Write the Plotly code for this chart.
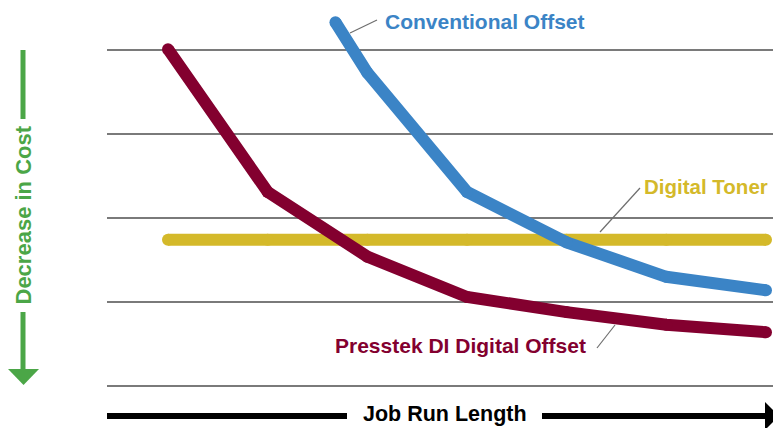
import plotly.graph_objects as go

# ---- data ----
run_length = [1, 2, 3, 4, 5, 6, 7]
presstek_di = [4.01, 2.31, 1.54, 1.06, 0.88, 0.73, 0.64]
conv_x = [2.68, 3, 4, 5, 6, 7]
conventional = [4.33, 3.73, 2.31, 1.71, 1.30, 1.14]
digital_toner = [1.74, 1.74, 1.74, 1.74, 1.74, 1.74, 1.74]
grid_levels = [0, 1, 2, 3, 4]

BLUE = "#3b84c6"
RED = "#83002f"
GOLD = "#d4b92a"
GREEN = "#4ba647"
GRAY = "#6e6e6e"
FONT = "Liberation Sans, Arial, sans-serif"

W, H = 773, 428
L = 107  # left margin (px)
PW = W - L

def pxx(p):
    return (p - L) / PW

def pxy(p):
    return 1 - p / H

fig = go.Figure()

LW = 12
fig.add_trace(go.Scatter(x=run_length, y=digital_toner, mode="lines+markers",
                         line=dict(color=GOLD, width=LW),
                         marker=dict(color=GOLD, size=LW, line=dict(width=0)),
                         hoverinfo="skip"))
fig.add_trace(go.Scatter(x=run_length, y=presstek_di, mode="lines+markers",
                         line=dict(color=RED, width=LW),
                         marker=dict(color=RED, size=LW, line=dict(width=0)),
                         hoverinfo="skip"))
fig.add_trace(go.Scatter(x=conv_x, y=conventional, mode="lines+markers",
                         line=dict(color=BLUE, width=LW),
                         marker=dict(color=BLUE, size=LW, line=dict(width=0)),
                         hoverinfo="skip"))

shapes = []
def seg(x0, y0, x1, y1, color, width):
    shapes.append(dict(type="line", xref="paper", yref="paper",
                       x0=pxx(x0), y0=pxy(y0), x1=pxx(x1), y1=pxy(y1),
                       line=dict(color=color, width=width)))

def tri(pts, color):
    d = "M " + " L ".join(f"{pxx(a)},{pxy(b)}" for a, b in pts) + " Z"
    shapes.append(dict(type="path", xref="paper", yref="paper", path=d,
                       fillcolor=color, line=dict(width=0)))

# green vertical arrow
seg(23, 50, 23, 119, GREEN, 5)
seg(23, 312, 23, 372, GREEN, 5)
tri([(8, 369), (39, 369), (23.5, 385)], GREEN)
# black horizontal arrow
seg(107, 416, 347, 416, "black", 6)
seg(542, 416, 767, 416, "black", 6)
tri([(765, 402), (765, 430), (779, 416)], "black")
# leader lines
seg(350, 33, 377, 20, GRAY, 1.2)
seg(600, 232, 640, 188, GRAY, 1.2)
seg(597, 348, 615, 325, GRAY, 1.2)

annotations = [
    dict(text="<b>Conventional Offset</b>", x=pxx(383), y=pxy(21), xanchor="left",
         yanchor="middle", font=dict(color=BLUE, size=21)),
    dict(text="<b>Digital Toner</b>", x=pxx(770), y=pxy(186), xanchor="right",
         yanchor="middle", font=dict(color=GOLD, size=20.5)),
    dict(text="<b>Presstek DI Digital Offset</b>", x=pxx(588), y=pxy(345), xanchor="right",
         yanchor="middle", font=dict(color=RED, size=21)),
    dict(text="<b>Job Run Length</b>", x=pxx(444.5), y=pxy(414), xanchor="center",
         yanchor="middle", font=dict(color="black", size=21.5)),
    dict(text="<b>Decrease in Cost</b>", x=pxx(23), y=pxy(215.5), xanchor="center",
         yanchor="middle", textangle=-90, font=dict(color=GREEN, size=22)),
]
for a in annotations:
    a.update(xref="paper", yref="paper", showarrow=False)

fig.update_layout(
    width=W, height=H,
    margin=dict(l=L, r=0, t=0, b=0),
    paper_bgcolor="white", plot_bgcolor="white",
    showlegend=False,
    font=dict(family=FONT),
    xaxis=dict(range=[1 - 61 / 99.67, 7 + 7 / 99.67], showgrid=False, zeroline=False,
               showticklabels=False, ticks="", showline=False),
    yaxis=dict(range=[(386 - 428) / 84, 386 / 84], tickvals=grid_levels, showgrid=True,
               gridcolor="#7a7a7a", gridwidth=1.5, zeroline=False,
               showticklabels=False, ticks="", showline=False),
    shapes=shapes,
    annotations=annotations,
)

fig.write_html("out.html")
